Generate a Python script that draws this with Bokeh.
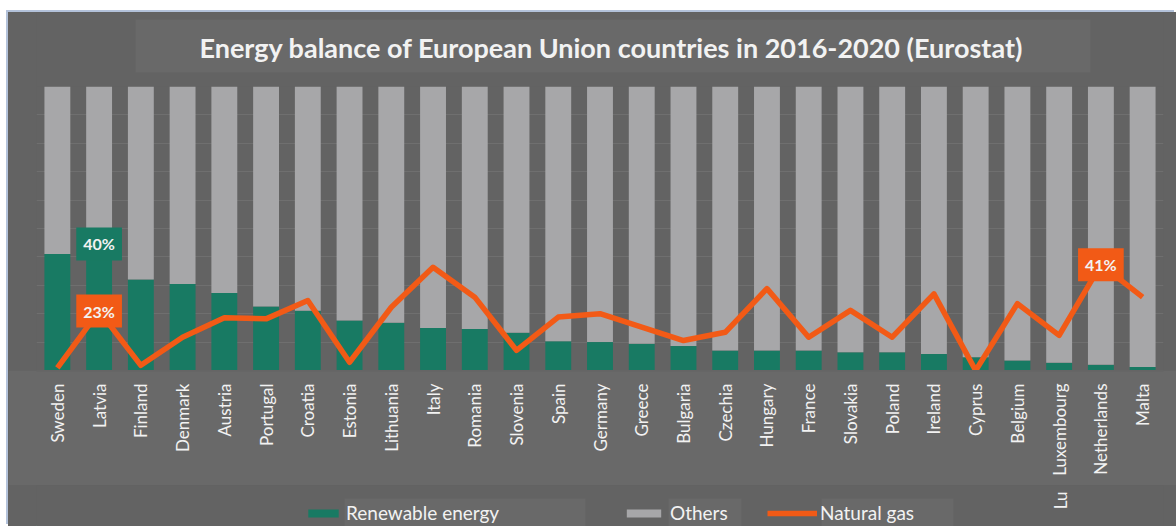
import math
from bokeh.plotting import figure
from bokeh.layouts import column
from bokeh.models import (ColumnDataSource, FactorRange, Range1d, Label,
                          Legend, LegendItem, Grid, FixedTicker)
from bokeh.core.properties import value
from bokeh.embed import file_html
from bokeh.resources import INLINE

# ---------------- data ----------------
countries = ["Sweden", "Latvia", "Finland", "Denmark", "Austria", "Portugal", "Croatia",
             "Estonia", "Lithuania", "Italy", "Romania", "Slovenia", "Spain", "Germany",
             "Greece", "Bulgaria", "Czechia", "Hungary", "France", "Slovakia", "Poland",
             "Ireland", "Cyprus", "Belgium", "Luxembourg", "Netherlands", "Malta"]
renewable = [41, 40, 32, 30.5, 27.3, 22.5, 21, 17.6, 16.8, 15, 14.6, 13.3, 10.3, 10,
             9.4, 8.6, 7, 7, 7, 6.4, 6.4, 5.8, 4.7, 3.5, 2.7, 2, 1.2]
others = [59, 60, 68, 69.5, 72.7, 77.5, 79, 82.4, 83.2, 85, 85.4, 86.7, 89.7, 90,
          90.6, 91.4, 93, 93, 93, 93.6, 93.6, 94.2, 95.3, 96.5, 97.3, 98, 98.8]
natural_gas = [1, 23, 2, 12.9, 20.4, 20, 27.1, 3.2, 24.5, 40, 28.4, 7.8, 20.7, 22,
               16.8, 11.6, 14.8, 31.7, 12.9, 23.3, 12.9, 29.7, 0, 25.9, 13.6, 41, 28.4]
series_names = ["Renewable energy", "Others", "Natural gas"]
renew_label_countries = ["Latvia"]
gas_label_countries = ["Latvia", "Netherlands"]
title_text = "Energy balance of European Union countries in 2016-2020 (Eurostat)"

# ---------------- style ----------------
BG = "#636363"
BOX = "#696969"
GREEN = "#187a63"
GREY = "#a7a7a9"
ORANGE = "#f25a16"
GRIDC = "#6f6f6f"
TXT = "#f2f2f2"
FONT = "Lato"

CW = 1168          # content width (page 1176 minus 8px white margin on the left)
FL, FR = 28, 13    # frame borders -> frame spans canvas x 36..1163
X0, X1 = 8 + FL, 8 + CW - FR


def make_fig(height, x_range, y_range, bg, border):
    f = figure(width=CW, height=height, x_range=x_range, y_range=y_range,
               output_backend="svg", toolbar_location=None,
               x_axis_location=None, y_axis_location=None,
               min_border_left=FL, min_border_right=FR,
               min_border_top=0, min_border_bottom=0)
    f.background_fill_color = bg
    f.border_fill_color = border
    f.outline_line_color = None
    f.grid.grid_line_color = None
    f.grid.visible = False
    return f


# ---------------- title strip (canvas y 12..86) ----------------
top = make_fig(74, Range1d(X0, X1), Range1d(86, 12), BG, BG)
top.quad(left=[135], right=[1090], top=[19], bottom=[72], fill_color=BOX, line_color=None)
top.add_layout(Label(x=611, y=47, text=title_text, text_align="center",
                     text_baseline="middle", text_font=FONT, text_font_style="bold",
                     text_font_size="27px", text_color=TXT))

# ---------------- main chart (canvas y 86..370) ----------------
xr = FactorRange(factors=countries, range_padding=0)
main = make_fig(284, xr, Range1d(0, 100), BG, BG)
main.extra_y_ranges = {"gas": Range1d(0, 110)}
main.add_layout(Grid(dimension=1, ticker=FixedTicker(ticks=list(range(10, 100, 10))),
                     grid_line_color=GRIDC, grid_line_width=1))

src = ColumnDataSource(dict(country=countries, renewable=renewable, others=others,
                            gas=natural_gas))
bars = main.vbar_stack(["renewable", "others"], x="country", width=0.62, source=src,
                       color=[GREEN, GREY], line_color=None)
gas_line = main.line(x="country", y="gas", source=src, y_range_name="gas",
                     line_color=ORANGE, line_width=5.5, line_join="round")

rl = ColumnDataSource(dict(
    x=renew_label_countries,
    y=[renewable[countries.index(c)] for c in renew_label_countries],
    t=[f"{renewable[countries.index(c)]:.0f}%" for c in renew_label_countries]))
main.text(x="x", y="y", text="t", source=rl, y_offset=-13,
          text_align="center", text_baseline="middle",
          text_font=value(FONT), text_font_style="bold", text_font_size="16px",
          text_color=TXT, background_fill_color=GREEN, padding=7)

gl = ColumnDataSource(dict(
    x=gas_label_countries,
    y=[natural_gas[countries.index(c)] for c in gas_label_countries],
    t=[f"{natural_gas[countries.index(c)]:.0f}%" for c in gas_label_countries]))
main.text(x="x", y="y", text="t", source=gl, y_range_name="gas",
          text_align="center", text_baseline="middle",
          text_font=value(FONT), text_font_style="bold", text_font_size="16px",
          text_color=TXT, background_fill_color=ORANGE, padding=7)

# ---------------- category axis strip (canvas y 370..485) ----------------
axf = figure(width=CW, height=115, x_range=xr, y_range=Range1d(0, 1),
             output_backend="svg", toolbar_location=None, y_axis_location=None,
             x_axis_location="below", min_border_left=FL, min_border_right=FR,
             min_border_top=0, min_border_bottom=114)
axf.background_fill_color = BOX
axf.border_fill_color = BOX
axf.outline_line_color = None
axf.grid.grid_line_color = None
ax = axf.xaxis[0]
ax.axis_line_color = None
ax.major_tick_line_color = None
ax.minor_tick_line_color = None
ax.major_label_orientation = math.pi / 2
ax.major_label_text_color = TXT
ax.major_label_text_font = FONT
ax.major_label_text_font_size = "17px"
ax.major_label_standoff = 6

# ---------------- legend strip (canvas y 485..526) ----------------
bot = make_fig(41, Range1d(X0, X1), Range1d(526, 485), BG, BG)
bot.quad(left=[344, 668, 821], right=[585, 741, 953], top=[498, 498, 498],
         bottom=[526, 526, 526], fill_color=BOX, line_color=None)
# legend proxies (kept outside the visible x range)
lg_r = bot.vbar(x=[0], top=[526], bottom=[525], width=1, fill_color=GREEN, line_color=None)
lg_o = bot.vbar(x=[0], top=[526], bottom=[525], width=1, fill_color=GREY, line_color=None)
lg_g = bot.line(x=[0, 1], y=[526, 526], line_color=ORANGE, line_width=5.5)
bot.add_layout(Label(x=1060, y=500, text="Lu", angle=math.pi / 2, text_align="center",
                     text_baseline="middle", text_font=FONT, text_font_size="17px",
                     text_color=TXT))


def make_legend(name, rend, cx, gw, standoff):
    leg = Legend(items=[LegendItem(label=name, renderers=[rend])],
                 location=(cx - X0, 2), orientation="horizontal",
                 background_fill_alpha=0, border_line_color=None,
                 padding=0, margin=0, spacing=0,
                 glyph_width=gw, glyph_height=10, label_height=10,
                 label_standoff=standoff, label_text_color=TXT,
                 label_text_font=FONT, label_text_font_size="19px")
    bot.add_layout(leg)


make_legend(series_names[0], lg_r, 304, 38, 4)
make_legend(series_names[1], lg_o, 622, 43, 5)
make_legend(series_names[2], lg_g, 767, 50, 3)

layout = column(top, main, axf, bot, spacing=0, margin=(12, 0, 0, 8),
                styles={"background-color": BG, "box-shadow": "-2px -2px 0 0 #b3c2da"})

open("out.html", "w").write(file_html(layout, INLINE))
